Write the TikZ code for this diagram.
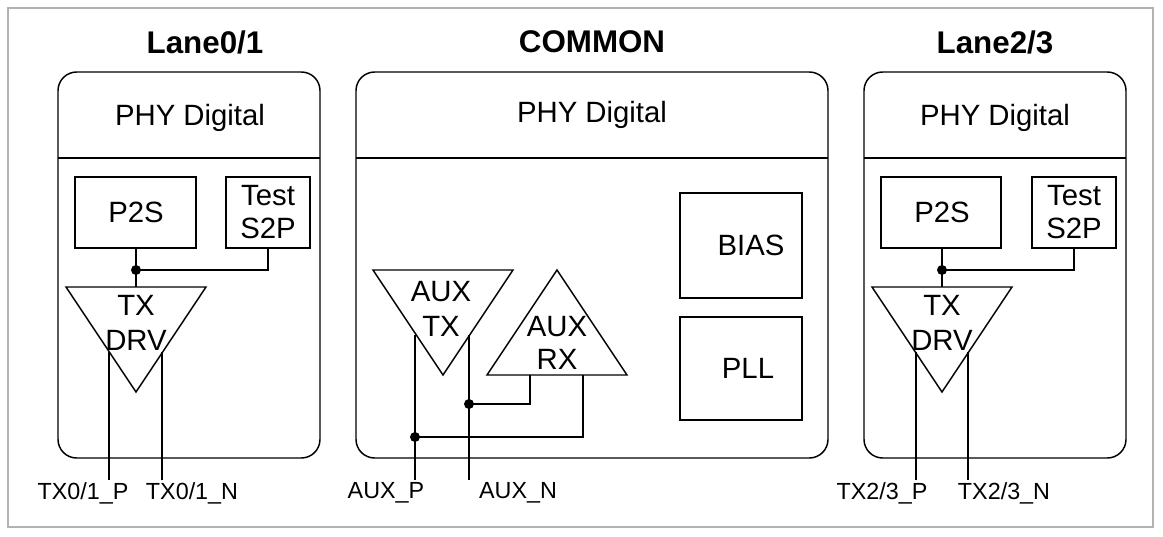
\documentclass[tikz,border=0pt]{standalone}
\usepackage{fontspec}
\setmainfont{Liberation Sans}
\begin{document}
\begin{tikzpicture}[x=0.75pt,y=-0.75pt,
  ln/.style={line width=1.1pt},
  blk/.style={ln,rounded corners=14pt},
  txt/.style={font=\fontsize{22}{25}\selectfont,inner sep=0},
  ttl/.style={font=\fontsize{23.5}{26}\selectfont\bfseries,inner sep=0},
  lbl/.style={font=\fontsize{17.5}{20}\selectfont,inner sep=0},
  dot/.style={circle,fill,inner sep=0,minimum size=7.5pt}]
\useasboundingbox (0,0) rectangle (1163,536);
\draw[gray!60,line width=0.8pt] (8,8) rectangle (1153,527);
% Lane0/1
\node[ttl] (t1) at (205,42) {Lane0/1};
\draw[blk] (58,72) rectangle (320,458);
\draw[ln] (58,158) -- (320,158);
\node[txt] (d1) at (190,118) {PHY Digital};
\draw[ln] (75,177) rectangle (196,248); \node[txt] (p1) at (136,212) {P2S};
\draw[ln] (226,177) rectangle (310,248); \node[txt,align=center] (s1) at (268,212) {Test\\S2P};
\draw[ln] (66,287) -- (206,287) -- (136,392) -- cycle;
\node[txt] (tx1) at (136,305) {TX}; \node[txt] (dr1) at (136,340) {DRV};
\node[dot] (j1) at (136,270) {};
\draw[ln] (136,248) -- (136,287);
\draw[ln] (j1.center) -- (268,270) -- (268,248);
\draw[ln] (109,352) -- (109,480); \draw[ln] (162,352) -- (162,480);
\node[lbl] (l1) at (83,493) {TX0/1\_P}; \node[lbl] (l2) at (192,493) {TX0/1\_N};
% COMMON
\node[ttl] (t2) at (592,42) {COMMON};
\draw[blk] (356,72) rectangle (828,458);
\draw[ln] (356,158) -- (828,158);
\node[txt] (d2) at (592,115) {PHY Digital};
\draw[ln] (680,193) rectangle (802,298); \node[txt] (bias) at (751,245) {BIAS};
\draw[ln] (680,317) rectangle (802,420); \node[txt] (pll) at (748,368) {PLL};
\draw[ln] (373,270) -- (513,270) -- (443,375) -- cycle;
\node[txt] (a1) at (441,292) {AUX}; \node[txt] (a2) at (441,326) {TX};
\draw[ln] (557,270) -- (627,375) -- (487,375) -- cycle;
\node[txt] (a3) at (557,327) {AUX}; \node[txt] (a4) at (557,359) {RX};
\draw[ln] (415,335) -- (415,480); \draw[ln] (469,335) -- (469,480);
\node[dot] (j2) at (469,404) {}; \node[dot] (j3) at (415,437) {};
\draw[ln] (j2.center) -- (530,404) -- (530,375);
\draw[ln] (j3.center) -- (583,437) -- (583,375);
\node[lbl] (l3) at (386,493) {AUX\_P}; \node[lbl] (l4) at (518,493) {AUX\_N};
% Lane2/3
\node[ttl] (t3) at (995,42) {Lane2/3};
\draw[blk] (864,72) rectangle (1126,458);
\draw[ln] (864,158) -- (1126,158);
\node[txt] (d3) at (995,118) {PHY Digital};
\draw[ln] (881,177) rectangle (1001,248); \node[txt] (p3) at (942,212) {P2S};
\draw[ln] (1032,177) rectangle (1116,248); \node[txt,align=center] (s3) at (1074,212) {Test\\S2P};
\draw[ln] (872,287) -- (1012,287) -- (942,392) -- cycle;
\node[txt] (tx3) at (942,305) {TX}; \node[txt] (dr3) at (942,340) {DRV};
\node[dot] (j4) at (942,270) {};
\draw[ln] (942,248) -- (942,287);
\draw[ln] (j4.center) -- (1074,270) -- (1074,248);
\draw[ln] (916,352) -- (916,480); \draw[ln] (968,352) -- (968,480);
\node[lbl] (l5) at (882,493) {TX2/3\_P}; \node[lbl] (l6) at (1004,493) {TX2/3\_N};
\end{tikzpicture}
\end{document}
